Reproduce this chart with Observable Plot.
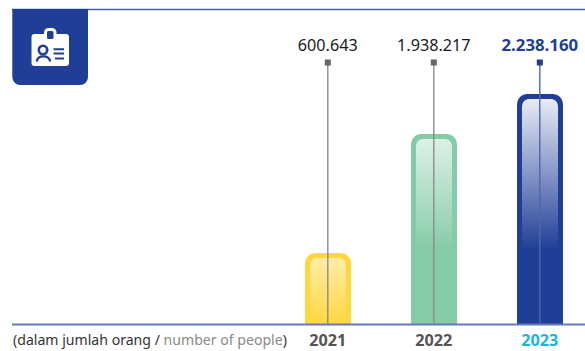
<!DOCTYPE html>
<html>
<head>
<meta charset="utf-8">
<script src="https://cdn.jsdelivr.net/npm/d3@7"></script>
<script src="https://cdn.jsdelivr.net/npm/@observablehq/plot@0.6"></script>
<style>
html,body{margin:0;padding:0;background:#fff}
svg{display:block}
</style>
</head>
<body>
<div id="chart"></div>
<script>
// Number of people per year
const years = ["2021", "2022", "2023"];
const people = [600643, 1938217, 2238160];
const valueLabels = ["600.643", "1.938.217", "2.238.160"];
const leaderTop = 2800000;
const headerLine = 3350000;

const barColors = ["#FFD740", "#85CBA8", "#203E96"];
const leaderColors = ["#8C8C8C", "#8C8C8C", "#4D66AE"];
const markerColors = ["#666666", "#666666", "#203E96"];
const yearColors = ["#555555", "#555555", "#1CB5E0"];
// Sheen on each bar: opacity at the top, and where it has fully faded
const sheenOpacity = [0.55, 0.72, 0.9];
const sheenEnd = [1, 0.6, 0.67];

const rows = years.map((year, i) => ({year, value: people[i], label: valueLabels[i], i}));
const FONT = "'Noto Sans', sans-serif";

// Gradient definitions for the inner sheen
function sheenDefs() {
  const defs = d3.create("svg:defs");
  years.forEach((year, i) => {
    const g = defs.append("linearGradient")
      .attr("id", `sheen-${year}`).attr("x1", 0).attr("x2", 0).attr("y1", 0).attr("y2", 1);
    g.append("stop").attr("offset", 0).attr("stop-color", "#fff").attr("stop-opacity", sheenOpacity[i]);
    g.append("stop").attr("offset", sheenEnd[i]).attr("stop-color", "#fff").attr("stop-opacity", 0);
  });
  return defs.node();
}

// Blue badge with the ID card pictogram
function badge() {
  const g = document.createElementNS("http://www.w3.org/2000/svg", "g");
  g.innerHTML = `
    <path d="M12.3 9H88V77a8 8 0 0 1-8 8H20.3a8 8 0 0 1-8-8Z" fill="#203E96"/>
    <rect x="31.5" y="34" width="37.5" height="32" rx="3" fill="#fff"/>
    <rect x="45.5" y="29.5" width="9.5" height="11" rx="3" fill="#203E96" stroke="#fff" stroke-width="3"/>
    <circle cx="43" cy="50" r="4.2" fill="none" stroke="#203E96" stroke-width="2.6"/>
    <path d="M37 60.5c1.5-5.5 11-5.5 13 0" fill="none" stroke="#203E96" stroke-width="2.4" stroke-linecap="round"/>
    <path d="M53.5 49.3h10.5M53.5 53.6h10.5M55 58.6h9" stroke="#203E96" stroke-width="2"/>`;
  return g;
}

// Unit note with its two-language colouring
function unitNote() {
  const t = d3.create("svg:text")
    .attr("x", 13).attr("y", 344.5).attr("text-anchor", "start")
    .attr("font-family", FONT).attr("font-size", 14.1).attr("fill", "#333");
  t.append("tspan").text("(dalam jumlah orang / ");
  t.append("tspan").attr("fill", "#8A8A8A").text("number of people");
  t.append("tspan").text(")");
  return t.node();
}

const chart = Plot.plot({
  width: 585,
  height: 351,
  marginTop: 9,
  marginLeft: 12,
  marginRight: 0,
  marginBottom: 27,
  style: {background: "#fff"},
  x: {type: "band", domain: years, range: [245, 623], padding: 0.566, axis: null},
  y: {
    type: "linear",
    domain: [0, 600643, 1938217, 2238160, leaderTop, headerLine],
    range: [324, 253, 134, 94, 62, 9],
    axis: null
  },
  marks: [
    sheenDefs,
    Plot.ruleY([headerLine], {stroke: "#4A60A8", strokeWidth: 1.3}),
    // Bar body, rounded on top only
    Plot.barY(rows, {x: "year", y: "value", fill: d => barColors[d.i], ry1: 10}),
    Plot.barY(rows, {x: "year", y: "value", fill: d => `url(#sheen-${d.year})`, insetLeft: 5, insetRight: 5, insetTop: 5, ry1: 7}),
    Plot.ruleY([0], {stroke: "#6478BC", strokeWidth: 2}),
    // Leader from each bar up to its value label
    Plot.ruleX(rows, {x: "year", y1: 0, y2: leaderTop, dx: -0.7, stroke: d => leaderColors[d.i], strokeWidth: 1.4}),
    Plot.dot(rows, {x: "year", y: leaderTop, dx: -0.7, symbol: "square", r: 3.4, fill: d => markerColors[d.i]}),
    Plot.text(rows.filter(d => d.i < 2), {
      x: "year", y: leaderTop, dx: -0.7, dy: -17, text: "label", fontFamily: FONT, fontSize: 16.2, fill: "#1A1A1A"
    }),
    Plot.text(rows.filter(d => d.i === 2), {
      x: "year", y: leaderTop, dx: -0.7, dy: -17, text: "label", fontFamily: FONT, fontSize: 16.8, fontWeight: "bold", fill: "#203E96"
    }),
    Plot.text(rows, {
      x: "year", y: 0, dx: -0.7, dy: 16, text: "year", fontFamily: FONT, fontSize: 16.2, fontWeight: "bold",
      fill: d => yearColors[d.i]
    }),
    badge,
    unitNote
  ]
});
document.getElementById("chart").append(chart);
</script>
</body>
</html>
